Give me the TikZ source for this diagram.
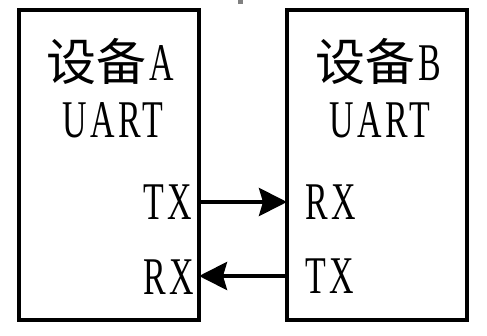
\documentclass[tikz,border=0pt]{standalone}
\usepackage{fontspec}
\setmainfont{Liberation Serif}
\newfontfamily\latinf[FakeStretch=0.64,LetterSpace=7]{Liberation Serif}
\newfontfamily\cjk{Noto Sans CJK SC}
\usetikzlibrary{arrows.meta}
\begin{document}
\begin{tikzpicture}[x=1pt,y=-1pt,
  devbox/.style={draw=black,line width=3.6pt,fill=white,outer sep=0pt,inner sep=0pt,
    minimum width=180pt,minimum height=310pt},
  lbl/.style={anchor=base west,inner sep=0pt,outer sep=0pt,font=\latinf\fontsize{53}{60}\selectfont},
  arr/.style={line width=4pt,-{Stealth[length=28pt,width=28pt,inset=4pt]}}]
\useasboundingbox (0,0) rectangle (487,336);
\fill[white] (0,0) rectangle (487,336);
\fill[gray] (238,0) rectangle (243,4);
\node[devbox] (A) at (109,165) {};
\node[devbox] (B) at (377,165) {};
\node[lbl] (tA) at (46,81) {{\cjk\fontsize{50}{60}\selectfont 设备}\kern3pt A};
\node[lbl] (tB) at (315,81) {{\cjk\fontsize{50}{60}\selectfont 设备}\kern3pt B};
\node[lbl] (uA) at (62,138) {UART};
\node[lbl] (uB) at (329,138) {UART};
\node[lbl] (txA) at (143,220) {TX};
\node[lbl] (rxA) at (143,295) {RX};
\node[lbl] (rxB) at (305,220) {RX};
\node[lbl] (txB) at (305,294) {TX};
\coordinate (y1) at (0,202);
\coordinate (y2) at (0,276);
\draw[arr] (A.east |- y1) -- (B.west |- y1);
\draw[arr] (B.west |- y2) -- (A.east |- y2);
\end{tikzpicture}
\end{document}
